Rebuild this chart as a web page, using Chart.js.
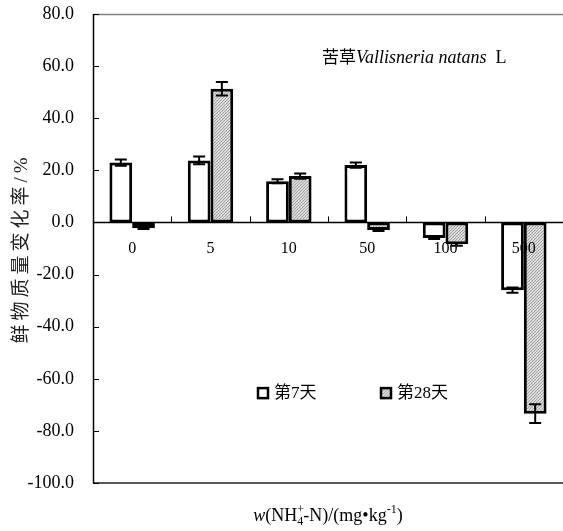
<!DOCTYPE html>
<html>
<head>
<meta charset="utf-8">
<script src="https://cdn.jsdelivr.net/npm/chart.js@4/dist/chart.umd.min.js"></script>
<style>
  body { margin: 0; background: #fff; }
  #wrap { width: 563px; height: 531px; }
</style>
</head>
<body>
<div id="wrap"><canvas id="chart" width="563" height="531"></canvas></div>
<script>
// 数据
const categories = ["0", "5", "10", "50", "100", "500"];
const day7 = [23.0, 23.8, 15.8, 22.0, -6.0, -26.0];
const day7Err = [1.2, 1.5, 0.8, 1.0, 0.4, 1.0];
const day28 = [-2.2, 51.3, 17.8, -2.9, -8.4, -73.4];
const day28Err = [0.3, 2.6, 1.0, 0.4, 0.5, 3.6];
const yTicks = [80, 60, 40, 20, 0, -20, -40, -60, -80, -100];
const seriesNames = ["第7天", "第28天"];

const FONT = "'Liberation Serif', 'Noto Sans CJK SC', serif";

// 灰色细斜线填充
function makeHatch() {
  let c = document.createElement("canvas");
  c.width = 3;
  c.height = 3;
  let g = c.getContext("2d");
  g.fillStyle = "#d8d8d8";
  g.fillRect(0, 0, 3, 3);
  g.fillStyle = "#a8a8a8";
  g.fillRect(0, 2, 1, 1);
  g.fillRect(1, 1, 1, 1);
  g.fillRect(2, 0, 1, 1);
  return g.createPattern(c, "repeat");
}
const hatch = makeHatch();

const extras = {
  id: "extras",
  beforeDatasetsDraw(chart) {
    // 上下边框
    const ctx = chart.ctx;
    const a = chart.chartArea;
    ctx.save();
    ctx.lineWidth = 1.5;
    ctx.strokeStyle = "#808080";
    ctx.beginPath();
    ctx.moveTo(a.left, a.top + 0.5);
    ctx.lineTo(a.right, a.top + 0.5);
    ctx.stroke();
    ctx.strokeStyle = "#222";
    ctx.beginPath();
    ctx.moveTo(a.left, a.bottom);
    ctx.lineTo(a.right, a.bottom);
    ctx.stroke();
    ctx.restore();
  },
  afterDatasetsDraw(chart) {
    // 误差线
    const ctx = chart.ctx;
    const y = chart.scales.y;
    const errs = [day7Err, day28Err];
    ctx.save();
    ctx.strokeStyle = "#000";
    ctx.lineWidth = 2;
    chart.data.datasets.forEach((ds, i) => {
      chart.getDatasetMeta(i).data.forEach((bar, j) => {
        let v = ds.data[j];
        let e = errs[i][j];
        let y1 = y.getPixelForValue(v + e);
        let y2 = y.getPixelForValue(v - e);
        ctx.beginPath();
        ctx.moveTo(bar.x, y1);
        ctx.lineTo(bar.x, y2);
        ctx.moveTo(bar.x - 6, y1);
        ctx.lineTo(bar.x + 6, y1);
        ctx.moveTo(bar.x - 6, y2);
        ctx.lineTo(bar.x + 6, y2);
        ctx.stroke();
      });
    });
    ctx.restore();
  },
  afterDraw(chart) {
    const ctx = chart.ctx;
    const a = chart.chartArea;
    const y = chart.scales.y;
    const x = chart.scales.x;
    const y0 = y.getPixelForValue(0);
    ctx.save();

    // 坐标轴线
    ctx.strokeStyle = "#000";
    ctx.lineWidth = 1.5;
    ctx.beginPath();
    ctx.moveTo(a.left + 0.5, a.top);
    ctx.lineTo(a.left + 0.5, a.bottom);
    ctx.moveTo(a.left, y0);
    ctx.lineTo(a.right, y0);
    ctx.stroke();

    // y 轴刻度（向内）
    ctx.lineWidth = 1;
    ctx.beginPath();
    yTicks.forEach((t) => {
      let py = Math.round(y.getPixelForValue(t)) + 0.5;
      ctx.moveTo(a.left, py);
      ctx.lineTo(a.left + 6, py);
    });
    // x 轴刻度（类别之间，向上）
    for (let i = 1; i < categories.length; i++) {
      let px = Math.round((x.getPixelForValue(i - 1) + x.getPixelForValue(i)) / 2) + 0.5;
      ctx.moveTo(px, y0);
      ctx.lineTo(px, y0 - 6);
    }
    ctx.stroke();

    // x 轴类别标签（画在柱子上面）
    ctx.fillStyle = "#000";
    ctx.font = "16px " + FONT;
    ctx.textAlign = "center";
    ctx.textBaseline = "middle";
    categories.forEach((c, i) => {
      ctx.fillText(c, x.getPixelForValue(i), y0 + 26);
    });
    ctx.textAlign = "left";

    // 图例
    const legend = [
      { x: a.left + 165, fill: "#fff" },
      { x: a.left + 288, fill: hatch },
    ];
    const ly = y.getPixelForValue(-65.5);
    legend.forEach((l, i) => {
      ctx.fillStyle = l.fill;
      ctx.fillRect(l.x, ly - 5, 10, 10);
      ctx.lineWidth = 2.5;
      ctx.strokeStyle = "#000";
      ctx.strokeRect(l.x, ly - 5, 10, 10);
      ctx.fillStyle = "#000";
      ctx.font = "17px " + FONT;
      ctx.fillText(seriesNames[i], l.x + 16, ly);
    });

    // 图内标题
    let tx = a.left + 229;
    let ty = y.getPixelForValue(63);
    ctx.font = "17px " + FONT;
    ctx.fillText("苦草", tx, ty);
    tx += ctx.measureText("苦草").width;
    ctx.font = "italic 18px " + FONT;
    ctx.fillText("Vallisneria natans", tx, ty);
    tx += ctx.measureText("Vallisneria natans").width;
    ctx.font = "18px " + FONT;
    ctx.fillText("  L", tx, ty);

    // x 轴标题
    const parts = [
      { t: "w", f: "italic 18px", dy: 0 },
      { t: "(NH", f: "18px", dy: 0 },
      { t: "4", f: "12px", dy: 6 },
      { t: "+", f: "12px", dy: -6 },
      { t: "-N)/(mg•kg", f: "18px", dy: 0 },
      { t: "-1", f: "12px", dy: -6 },
      { t: ")", f: "18px", dy: 0 },
    ];
    let w = 0;
    parts.forEach((p) => {
      ctx.font = p.f + " " + FONT;
      if (p.t === "+") return; // 上标与下标叠放
      w += ctx.measureText(p.t).width;
    });
    let px = (a.left + a.right) / 2 - w / 2;
    let py = 516;
    let subX = 0;
    parts.forEach((p) => {
      ctx.font = p.f + " " + FONT;
      if (p.t === "4") subX = px;
      if (p.t === "+") {
        ctx.fillText(p.t, subX, py + p.dy);
        return;
      }
      ctx.fillText(p.t, px, py + p.dy);
      px += ctx.measureText(p.t).width;
    });

    // y 轴标题
    ctx.translate(22, (a.top + a.bottom) / 2);
    ctx.rotate(-Math.PI / 2);
    ctx.textAlign = "center";
    ctx.font = "19px " + FONT;
    ctx.letterSpacing = "4px";
    ctx.fillStyle = "#222";
    ctx.fillText("鲜物质量变化率/%", 0, 0);
    ctx.restore();
  },
};

new Chart(document.getElementById("chart"), {
  type: "bar",
  data: {
    labels: categories,
    datasets: [
      {
        label: seriesNames[0],
        data: day7,
        backgroundColor: "#fff",
        borderColor: "#000",
        borderWidth: 3,
        borderSkipped: false,
      },
      {
        label: seriesNames[1],
        data: day28,
        backgroundColor: hatch,
        borderColor: "#000",
        borderWidth: 3,
        borderSkipped: false,
      },
    ],
  },
  options: {
    responsive: false,
    animation: false,
    layout: { padding: { top: 14, bottom: 48, right: 0 } },
    datasets: { bar: { categoryPercentage: 0.58, barPercentage: 1.0 } },
    plugins: {
      legend: { display: false },
      tooltip: { enabled: false },
    },
    scales: {
      x: {
        position: { y: 0 },
        grid: { display: false, drawTicks: false },
        border: { display: false },
        ticks: { display: false },
      },
      y: {
        min: -100,
        max: 80,
        afterFit(scale) {
          scale.width = 93;
          scale.paddingTop = 0;
          scale.paddingBottom = 0;
        },
        afterBuildTicks(scale) {
          scale.ticks = yTicks.map((v) => ({ value: v }));
        },
        grid: { display: false, drawTicks: false },
        border: { display: false },
        ticks: {
          padding: 19,
          color: "#000",
          font: { family: FONT, size: 18 },
          callback: (v) => v.toFixed(1),
        },
      },
    },
  },
  plugins: [extras],
});
</script>
</body>
</html>
